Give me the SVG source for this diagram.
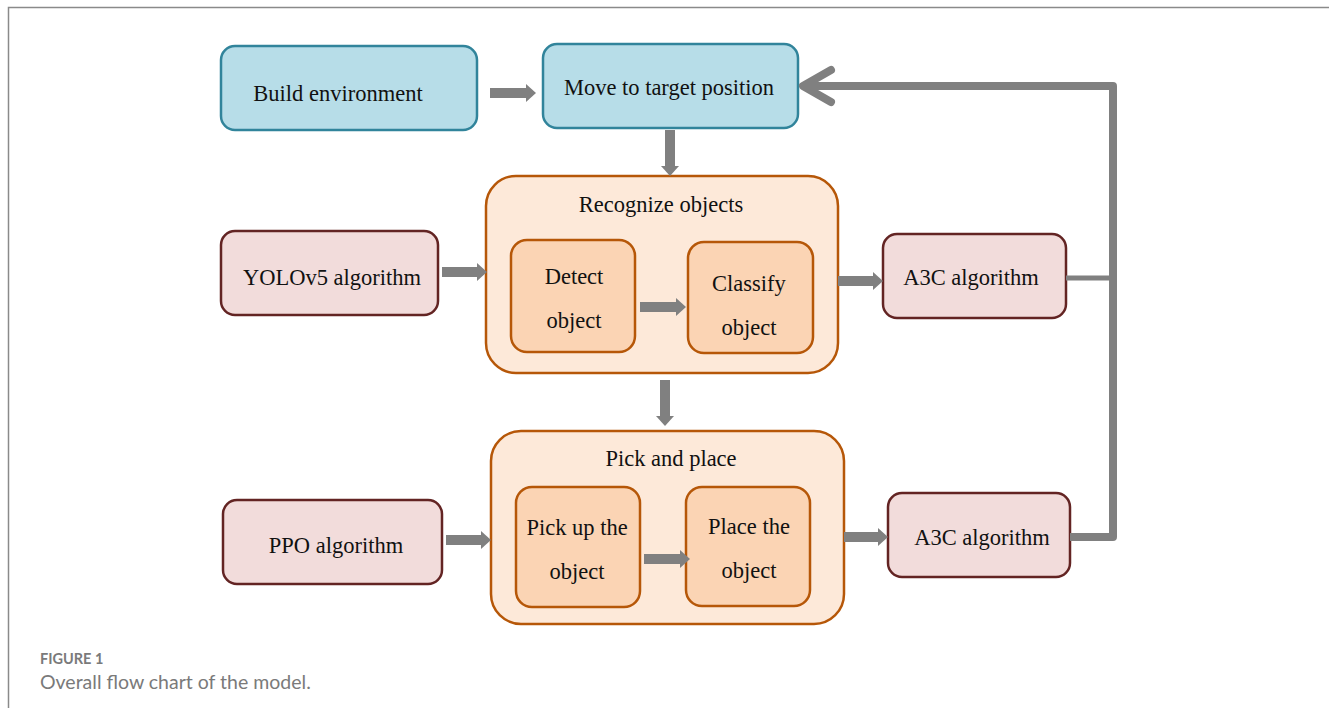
<svg xmlns="http://www.w3.org/2000/svg" width="1329" height="708" viewBox="0 0 1329 708">
<style>
.blue{fill:#b7dde8;stroke:#31849b;stroke-width:2.5}
.pink{fill:#f2dcdb;stroke:#632423;stroke-width:2.5}
.outer{fill:#fde9d9;stroke:#b65708;stroke-width:2.5}
.inner{fill:#fbd4b4;stroke:#b65708;stroke-width:2.5}
.t{font-family:"Liberation Serif","Times New Roman",serif;font-size:22.5px;fill:#111;text-anchor:middle}
.arr{stroke:#808080;stroke-width:10;fill:none}
.ln{stroke:#808080;fill:none;stroke-linejoin:round}
.cap1{font-family:Lato,"Open Sans",sans-serif;font-size:14.5px;fill:#7a7a7a;font-weight:bold}
.cap2{font-family:Lato,"Open Sans",sans-serif;font-size:19.5px;fill:#7a7a7a}
</style>
<defs>
<marker id="ah" markerUnits="userSpaceOnUse" markerWidth="10" markerHeight="20" refX="0" refY="10" orient="auto">
<path d="M0,1 L10,10 L0,19 Z" fill="#808080"/>
</marker>
</defs>
<rect width="1329" height="708" fill="#fff"/>
<path d="M8.5,708 V7.5 H1329" fill="none" stroke="#8a8a8a" stroke-width="1.5"/>

<g id="build-environment"><rect class="blue" x="221" y="46" width="256" height="84" rx="14"/><text class="t" x="338" y="101">Build environment</text></g>
<g id="move-to-target"><rect class="blue" x="543" y="44" width="255" height="84" rx="14"/><text class="t" x="669" y="95">Move to target position</text></g>

<g id="recognize-objects"><rect class="outer" x="486" y="176" width="352" height="197" rx="30"/><text class="t" x="661" y="212">Recognize objects</text></g>
<g id="detect-object"><rect class="inner" x="511" y="240" width="124" height="112" rx="16"/><text class="t" x="574" y="284">Detect</text><text class="t" x="574" y="328">object</text></g>
<g id="classify-object"><rect class="inner" x="688" y="242" width="125" height="111" rx="16"/><text class="t" x="749" y="291">Classify</text><text class="t" x="749" y="335">object</text></g>

<g id="yolov5"><rect class="pink" x="221" y="231" width="217" height="84" rx="14"/><text class="t" x="332" y="285">YOLOv5 algorithm</text></g>
<g id="a3c-1"><rect class="pink" x="883" y="234" width="183" height="84" rx="14"/><text class="t" x="971" y="285">A3C algorithm</text></g>

<g id="pick-and-place"><rect class="outer" x="491" y="431" width="353" height="193" rx="30"/><text class="t" x="671" y="466">Pick and place</text></g>
<g id="pick-up-object"><rect class="inner" x="516" y="487" width="124" height="120" rx="16"/><text class="t" x="577" y="535">Pick up the</text><text class="t" x="577" y="579">object</text></g>
<g id="place-object"><rect class="inner" x="686" y="487" width="124" height="119" rx="16"/><text class="t" x="749" y="534">Place the</text><text class="t" x="749" y="578">object</text></g>

<g id="ppo"><rect class="pink" x="223" y="500" width="219" height="84" rx="14"/><text class="t" x="336" y="553">PPO algorithm</text></g>
<g id="a3c-2"><rect class="pink" x="888" y="493" width="182" height="84" rx="14"/><text class="t" x="982" y="545">A3C algorithm</text></g>

<g id="connectors">
<line class="arr" x1="490" y1="93" x2="526" y2="93" marker-end="url(#ah)"/>
<line class="arr" x1="670" y1="130" x2="670" y2="166" marker-end="url(#ah)"/>
<line class="arr" x1="442" y1="272" x2="477" y2="272" marker-end="url(#ah)"/>
<line class="arr" x1="640" y1="307" x2="676" y2="307" marker-end="url(#ah)"/>
<line class="arr" x1="838" y1="281" x2="873" y2="281" marker-end="url(#ah)"/>
<line class="arr" x1="665" y1="380" x2="665" y2="416" marker-end="url(#ah)"/>
<line class="arr" x1="446" y1="540" x2="481" y2="540" marker-end="url(#ah)"/>
<line class="arr" x1="644" y1="559" x2="680" y2="559" marker-end="url(#ah)"/>
<line class="arr" x1="844" y1="537" x2="878" y2="537" marker-end="url(#ah)"/>
<line class="ln" x1="1066" y1="278" x2="1112" y2="278" stroke-width="5"/>
<path class="ln" d="M1070,537 H1113 V86 H803" stroke-width="8"/>
<path class="ln" d="M831,70 L803,86 L831,102" stroke-width="8" stroke-linecap="round"/>
</g>

<text class="cap1" x="40" y="664">FIGURE 1</text>
<text class="cap2" x="40" y="689">Overall flow chart of the model.</text>
</svg>
